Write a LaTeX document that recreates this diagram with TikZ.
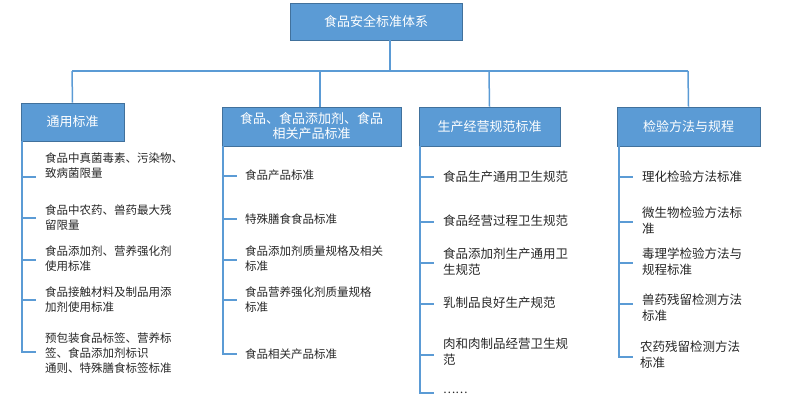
\documentclass[tikz,border=0pt]{standalone}
\usepackage{fontspec}
\setmainfont{Noto Sans CJK SC}
\definecolor{bfill}{HTML}{5B9BD5}
\definecolor{bdraw}{HTML}{41719C}
\definecolor{tx}{HTML}{262626}
\begin{document}
\begin{tikzpicture}[x=1pt,y=-1pt,
  hdr/.style={draw=bdraw,fill=bfill,text=white,font=\fontsize{13}{15}\selectfont,inner sep=0pt,align=center,line width=0.8pt},
  itm/.style={anchor=west,text=tx,font=\fontsize{11.5}{15}\selectfont,align=left,inner sep=0pt},
  ln/.style={draw=bfill,line width=1.5pt}]
\useasboundingbox (0,0) rectangle (800,413);
\node[hdr,minimum width=172,minimum height=37] (top) at (376,21.5) {食品安全标准体系};
\node[hdr,minimum width=103,minimum height=38] (b1) at (72.5,122) {通用标准};
\node[hdr,minimum width=179,minimum height=39] (b2) at (311.5,126.5) {食品、食品添加剂、食品\\相关产品标准};
\node[hdr,minimum width=141,minimum height=39] (b3) at (489.5,126.5) {生产经营规范标准};
\node[hdr,minimum width=143,minimum height=39] (b4) at (688.5,126.5) {检验方法与规程};
\coordinate (hl) at (72,71); \coordinate (hr) at (688,71);
\draw[ln] (top.south -| 390,0) -- (390,71);
\draw[ln] (hl) -- (hr);
\draw[ln] (hl) -- (b1.north);
\draw[ln] (320,71) -- (320,107);
\draw[ln] (489,71) -- (b3.north);
\draw[ln] (hr) -- (b4.north);
% column 1
\node[itm] (a1) at (45,166) {食品中真菌毒素、污染物、\\致病菌限量};
\node[itm] (a2) at (45,218) {食品中农药、兽药最大残\\留限量};
\node[itm] (a3) at (45,259) {食品添加剂、营养强化剂\\使用标准};
\node[itm] (a4) at (45,300) {食品接触材料及制品用添\\加剂使用标准};
\node[itm] (a5) at (45,353) {预包装食品标签、营养标\\签、食品添加剂标识\\通则、特殊膳食标签标准};
\draw[ln] (22,141) -- (22,352) -- (36,352);
\foreach \y in {177,218,260,300} \draw[ln] (22,\y) -- (36,\y);
% column 2
\node[itm] (c1) at (245,175) {食品产品标准};
\node[itm] (c2) at (245,219) {特殊膳食食品标准};
\node[itm] (c3) at (245,259) {食品添加剂质量规格及相关\\标准};
\node[itm] (c4) at (245,300) {食品营养强化剂质量规格\\标准};
\node[itm] (c5) at (245,354) {食品相关产品标准};
\draw[ln] (223,146) -- (223,354) -- (237,354);
\foreach \y in {176,219,260,300} \draw[ln] (223,\y) -- (237,\y);
% column 3
\node[itm,font=\fontsize{12.5}{16}\selectfont] (d1) at (443,177) {食品生产通用卫生规范};
\node[itm,font=\fontsize{12.5}{16}\selectfont] (d2) at (443,221) {食品经营过程卫生规范};
\node[itm,font=\fontsize{12.5}{16}\selectfont] (d3) at (443,262) {食品添加剂生产通用卫\\生规范};
\node[itm,font=\fontsize{12.5}{16}\selectfont] (d4) at (443,303) {乳制品良好生产规范};
\node[itm,font=\fontsize{12.5}{16}\selectfont] (d5) at (443,352) {肉和肉制品经营卫生规\\范};
\node[itm] (d6) at (443,393) {……};
\draw[ln] (420,146) -- (420,393) -- (434,393);
\foreach \y in {177,222,263,304,355} \draw[ln] (420,\y) -- (434,\y);
% column 4
\node[itm,font=\fontsize{12.5}{16}\selectfont] (e1) at (642,177) {理化检验方法标准};
\node[itm,font=\fontsize{12.5}{16}\selectfont] (e2) at (642,221) {微生物检验方法标\\准};
\node[itm,font=\fontsize{12.5}{16}\selectfont] (e3) at (642,262) {毒理学检验方法与\\规程标准};
\node[itm,font=\fontsize{12.5}{16}\selectfont] (e4) at (642,308) {兽药残留检测方法\\标准};
\node[itm,font=\fontsize{12.5}{16}\selectfont] (e5) at (640,355) {农药残留检测方法\\标准};
\draw[ln] (619,146) -- (619,357) -- (633,357);
\foreach \y in {177,222,263,304} \draw[ln] (619,\y) -- (633,\y);
\end{tikzpicture}
\end{document}
